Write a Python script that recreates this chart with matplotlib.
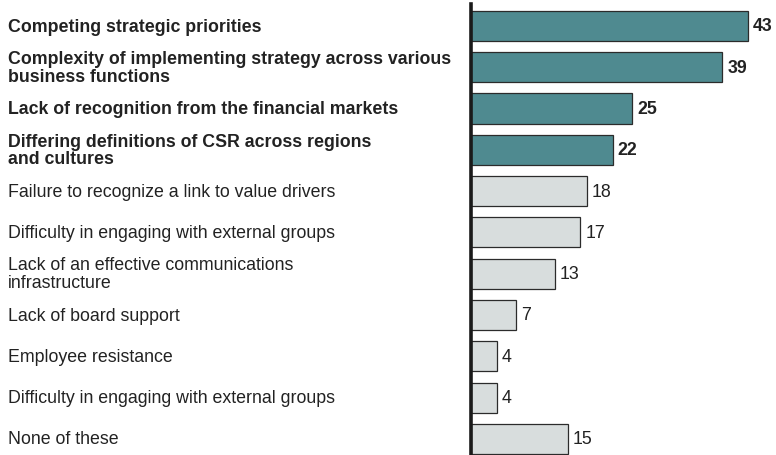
import matplotlib.pyplot as plt

plt.rcParams['font.family'] = ['Liberation Sans', 'DejaVu Sans']

labels = [
    "Competing strategic priorities",
    "Complexity of implementing strategy across various\nbusiness functions",
    "Lack of recognition from the financial markets",
    "Differing definitions of CSR across regions\nand cultures",
    "Failure to recognize a link to value drivers",
    "Difficulty in engaging with external groups",
    "Lack of an effective communications\ninfrastructure",
    "Lack of board support",
    "Employee resistance",
    "Difficulty in engaging with external groups",
    "None of these",
]
values = [43, 39, 25, 22, 18, 17, 13, 7, 4, 4, 15]
highlighted = [True, True, True, True, False, False, False, False, False, False, False]

W, H = 776, 456
fig = plt.figure(figsize=(W / 100, H / 100), dpi=100)
ax = fig.add_axes([471 / W, 0, (W - 471) / W, (H - 5) / H])

teal = "#4f8a90"
grey = "#d8dddd"
ypos = list(range(len(values)))
colors = [teal if h else grey for h in highlighted]
ax.barh(ypos, values, height=0.73, color=colors, edgecolor="#2b2b2b", linewidth=0.9, zorder=2)

ax.set_ylim(10.39, -0.53)
ax.set_xlim(0, (W - 471) / 6.44)
for s in ["top", "right", "bottom"]:
    ax.spines[s].set_visible(False)
ax.spines["left"].set_linewidth(2.6)
ax.spines["left"].set_color("#1a1a1a")
ax.spines["left"].set_zorder(3)
ax.set_xticks([])
ax.set_yticks([])

for y, v, h, lab in zip(ypos, values, highlighted, labels):
    w = "bold" if h else "normal"
    ax.text(v + 0.8, y, str(v), va="center", ha="left", fontsize=12.8,
            fontweight=w, color="#222222")
    fig.text(8 / W, 1 - (27 + y * 41.3) / H, lab, va="center", ha="left",
             fontsize=12.8, fontweight=w, color="#222222", linespacing=1.06)

fig.savefig("out.png", dpi=100)
